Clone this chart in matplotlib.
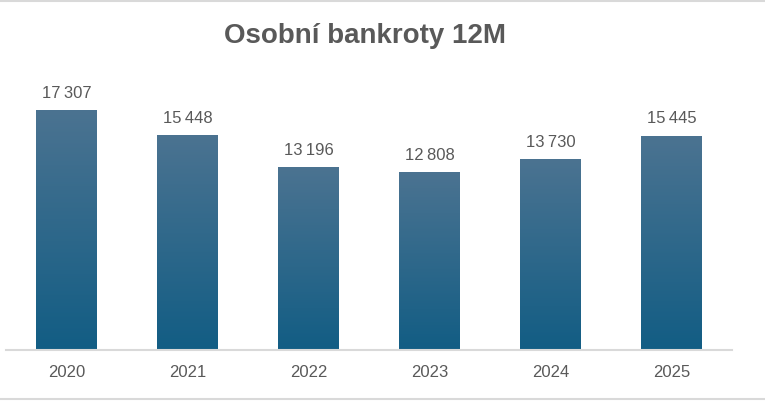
import numpy as np
import matplotlib
matplotlib.use("Agg")
import matplotlib.pyplot as plt
from matplotlib.lines import Line2D

# ── Data ───────────────────────────────────────────────────────────────────────
years = ["2020", "2021", "2022", "2023", "2024", "2025"]
bankruptcies = [17307, 15448, 13196, 12808, 13730, 15445]

title = "Osobní bankroty 12M"
text_color = "#595959"
top_color = np.array([0x4b, 0x73, 0x91]) / 255
bottom_color = np.array([0x12, 0x5d, 0x84]) / 255

plt.rcParams['font.family'] = ['Liberation Sans Narrow', 'Liberation Sans', 'DejaVu Sans']

# ── Figure ─────────────────────────────────────────────────────────────────────
fig = plt.figure(figsize=(7.65, 4.01), dpi=100)
ax = fig.add_axes([0.0078, 0.127, 0.949, 0.691])

x = np.arange(len(years))
bars = ax.bar(x, bankruptcies, width=0.5, color="none", edgecolor="none")

# vertical gradient per bar
grad = np.linspace(0, 1, 256).reshape(-1, 1)
cols = bottom_color + (top_color - bottom_color) * grad
img = cols.reshape(256, 1, 3)
for b in bars:
    x0, w, h = b.get_x(), b.get_width(), b.get_height()
    ax.imshow(img, extent=(x0, x0 + w, 0, h), origin="lower",
              aspect="auto", interpolation="bilinear", zorder=2)

ax.set_xlim(-0.5, len(years) - 0.5)
ax.set_ylim(0, 20000)

labels = [f"{v:,}".replace(",", "\u2009") for v in bankruptcies]
ax.bar_label(bars, labels=labels, padding=7, fontsize=12, color=text_color)

ax.set_xticks(x)
ax.set_xticklabels(years, fontsize=12, color=text_color)
ax.tick_params(axis="x", length=0, pad=11)
ax.set_yticks([])
for s in ["left", "right", "top"]:
    ax.spines[s].set_visible(False)
ax.spines["bottom"].set_color("#d9d9d9")
ax.spines["bottom"].set_linewidth(1.5)

fig.text(0.477, 0.91, title, fontsize=20, fontweight="bold", color=text_color,
         ha="center", va="center")

# chart-area border lines (top and bottom)
fig.add_artist(Line2D([0, 1], [0.998, 0.998], color="#d9d9d9", lw=1.5))
fig.add_artist(Line2D([0, 1], [0.006, 0.006], color="#d9d9d9", lw=1.5))

fig.savefig("out.png", dpi=100)
